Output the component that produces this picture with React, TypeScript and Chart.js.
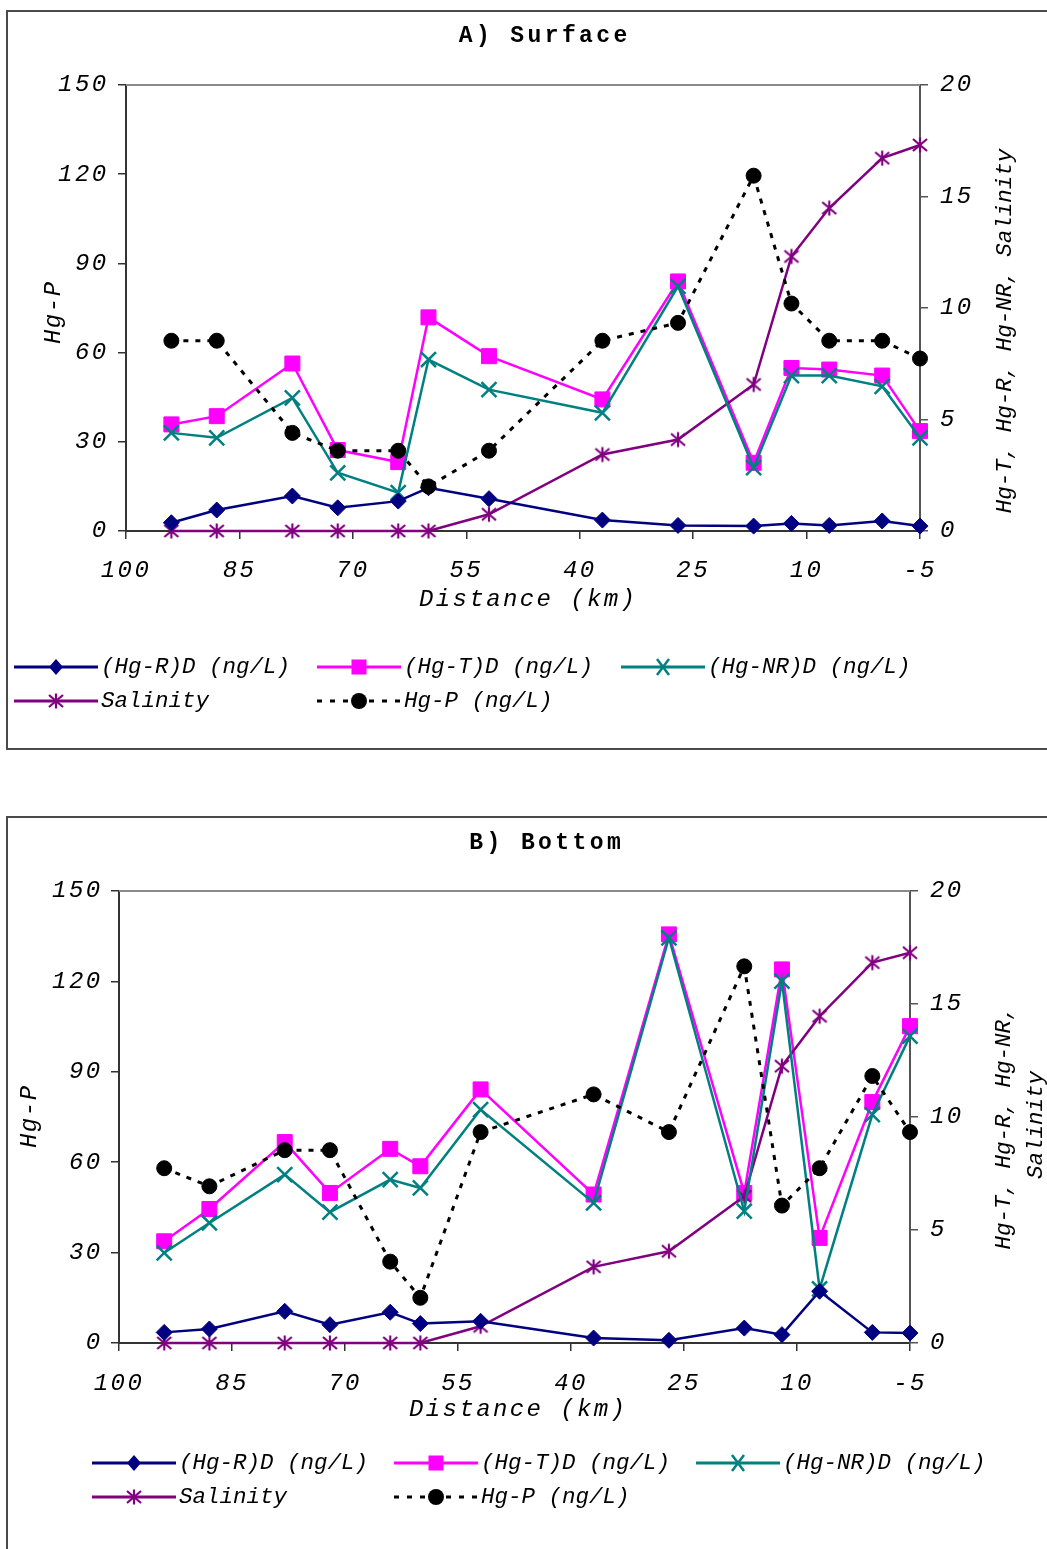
import React, { useEffect, useRef } from 'react';
import { Chart, registerables } from 'chart.js';

Chart.register(...registerables);

// ---------------- data ----------------
const distanceKm = [94, 88, 78, 72, 64, 60, 52, 37, 27, 17, 12, 7, 0, -5];
const xTickValues = [100, 85, 70, 55, 40, 25, 10, -5];
const leftTickValues = [0, 30, 60, 90, 120, 150];
const rightTickValues = [0, 5, 10, 15, 20];

const seriesLabels = ['(Hg-R)D (ng/L)', '(Hg-T)D (ng/L)', '(Hg-NR)D (ng/L)', 'Salinity', 'Hg-P (ng/L)'];

// A) Surface
const surfaceHgR = [0.37, 0.94, 1.57, 1.04, 1.34, 1.94, 1.45, 0.49, 0.25, 0.22, 0.34, 0.25, 0.45, 0.22];
const surfaceHgT = [4.78, 5.15, 7.51, 3.63, 3.09, 9.58, 7.84, 5.9, 11.19, 3.06, 7.31, 7.24, 6.97, 4.48];
const surfaceHgNR = [4.4, 4.18, 5.97, 2.61, 1.72, 7.69, 6.34, 5.3, 10.97, 2.84, 6.97, 6.97, 6.49, 4.18];
const surfaceSalinity = [0, 0, 0, 0, 0, 0, 0.75, 3.43, 4.1, 6.57, 12.31, 14.48, 16.72, 17.31];
const surfaceHgP = [64, 64, 33, 27, 27, 15, 27, 64, 70, 119.5, 76.5, 64, 64, 58];

// B) Bottom
const bottomHgR = [0.47, 0.62, 1.4, 0.81, 1.36, 0.86, 0.96, 0.22, 0.12, 0.66, 0.37, 2.29, 0.47, 0.44];
const bottomHgT = [4.5, 5.93, 8.89, 6.64, 8.59, 7.82, 11.22, 6.57, 18.08, 6.64, 16.53, 4.65, 10.66, 14.02];
const bottomHgNR = [3.99, 5.31, 7.45, 5.79, 7.23, 6.86, 10.33, 6.2, 17.93, 5.83, 16.01, 2.39, 10.11, 13.58];
const bottomSalinity = [0, 0, 0, 0, 0, 0, 0.74, 3.37, 4.06, 6.49, 12.25, 14.46, 16.83, 17.27];
const bottomHgP = [58, 52, 64, 64, 27, 15, 70, 82.5, 70, 125, 45.6, 58, 88.6, 70];

// ---------------- styles ----------------
const SERIES_STYLE = [
  { color: '#000080', marker: 'diamond', axis: 'yR', dash: [] as number[], width: 2.5, order: 1 },
  { color: '#FF00FF', marker: 'square', axis: 'yR', dash: [] as number[], width: 2.5, order: 4 },
  { color: '#008080', marker: 'cross', axis: 'yR', dash: [] as number[], width: 2.5, order: 2 },
  { color: '#800080', marker: 'asterisk', axis: 'yR', dash: [] as number[], width: 2.5, order: 3 },
  { color: '#000000', marker: 'circle', axis: 'yL', dash: [5, 7], width: 3, order: 0 },
];

const MONO = '"Liberation Mono", "Courier New", monospace';
const TICK_SIZE = 24;
const TICK_SPACING = 2.4;
const AXIS_COLOR = '#333333';

let asteriskCache: HTMLCanvasElement | null = null;
function getAsterisk(): HTMLCanvasElement {
  if (asteriskCache) return asteriskCache;
  const c = document.createElement('canvas');
  c.width = 18;
  c.height = 18;
  const g = c.getContext('2d')!;
  g.strokeStyle = '#800080';
  g.lineWidth = 2.2;
  g.beginPath();
  g.moveTo(9, 1.5);
  g.lineTo(9, 16.5);
  g.moveTo(2, 3);
  g.lineTo(16, 15);
  g.moveTo(16, 3);
  g.lineTo(2, 15);
  g.stroke();
  asteriskCache = c;
  return c;
}

function pointStyleFor(marker: string): any {
  switch (marker) {
    case 'diamond':
      return { pointStyle: 'rectRot', pointRadius: 8, pointBorderWidth: 1 };
    case 'square':
      return { pointStyle: 'rect', pointRadius: 10.6, pointBorderWidth: 1 };
    case 'cross':
      return { pointStyle: 'crossRot', pointRadius: 10.6, pointBorderWidth: 2.5 };
    case 'asterisk':
      return { pointStyle: getAsterisk(), pointRadius: 9, pointBorderWidth: 1 };
    default:
      return { pointStyle: 'circle', pointRadius: 7.5, pointBorderWidth: 1 };
  }
}

function drawMarker(ctx: CanvasRenderingContext2D, marker: string, x: number, y: number, color: string) {
  ctx.save();
  ctx.fillStyle = color;
  ctx.strokeStyle = color;
  ctx.setLineDash([]);
  switch (marker) {
    case 'diamond':
      ctx.beginPath();
      ctx.moveTo(x - 7, y);
      ctx.lineTo(x, y - 8);
      ctx.lineTo(x + 7, y);
      ctx.lineTo(x, y + 8);
      ctx.closePath();
      ctx.fill();
      break;
    case 'square':
      ctx.fillRect(x - 7.5, y - 7.5, 15, 15);
      break;
    case 'cross':
      ctx.lineWidth = 2.5;
      ctx.beginPath();
      ctx.moveTo(x - 6, y - 8);
      ctx.lineTo(x + 6, y + 8);
      ctx.moveTo(x + 6, y - 8);
      ctx.lineTo(x - 6, y + 8);
      ctx.stroke();
      break;
    case 'asterisk': {
      const img = getAsterisk();
      ctx.drawImage(img, x - img.width / 2, y - img.height / 2);
      break;
    }
    default:
      ctx.beginPath();
      ctx.arc(x, y, 8, 0, Math.PI * 2);
      ctx.fill();
  }
  ctx.restore();
}

function drawText(
  ctx: any,
  str: string,
  x: number,
  y: number,
  font: string,
  spacing: number,
  rotate = false,
  align: CanvasTextAlign = 'center'
) {
  ctx.save();
  ctx.translate(x, y);
  if (rotate) ctx.rotate(-Math.PI / 2);
  ctx.font = font;
  ctx.letterSpacing = spacing + 'px';
  ctx.textAlign = align;
  ctx.textBaseline = 'middle';
  ctx.fillStyle = '#000';
  ctx.fillText(str, align === 'center' ? spacing / 2 : 0, 0);
  ctx.restore();
}

type PanelCfg = {
  key: string;
  title: string;
  canvasTop: number;
  canvasHeight: number;
  areaLeft: number;
  areaRight: number;
  areaTop: number;
  areaBottom: number;
  series: number[][];
  titlePos: [number, number];
  xTitlePos: [number, number];
  yLeftTitlePos: [number, number];
  yRightTitle: { text: string; x: number; y: number }[];
  legendRowsY: [number, number];
  legendColsX: number[];
  xTickPad: number;
  leftTickPad: number;
  rightTickPad: number;
};

const PANEL_A: PanelCfg = {
  key: 'A',
  title: 'A) Surface',
  canvasTop: 0,
  canvasHeight: 770,
  areaLeft: 126,
  areaRight: 920,
  areaTop: 85,
  areaBottom: 531,
  series: [surfaceHgR, surfaceHgT, surfaceHgNR, surfaceSalinity, surfaceHgP],
  titlePos: [543, 36],
  xTitlePos: [527, 600],
  yLeftTitlePos: [54, 313],
  yRightTitle: [{ text: 'Hg-T, Hg-R, Hg-NR, Salinity', x: 1005, y: 331 }],
  legendRowsY: [667, 701],
  legendColsX: [14, 317, 621],
  xTickPad: 17,
  leftTickPad: 9.5,
  rightTickPad: 12,
};

const PANEL_B: PanelCfg = {
  key: 'B',
  title: 'B) Bottom',
  canvasTop: 780,
  canvasHeight: 769,
  areaLeft: 119,
  areaRight: 910,
  areaTop: 891,
  areaBottom: 1343,
  series: [bottomHgR, bottomHgT, bottomHgNR, bottomSalinity, bottomHgP],
  titlePos: [545, 843],
  xTitlePos: [517, 1410],
  yLeftTitlePos: [30, 1117],
  yRightTitle: [
    { text: 'Hg-T, Hg-R, Hg-NR,', x: 1004, y: 1128 },
    { text: 'Salinity', x: 1036, y: 1125 },
  ],
  legendRowsY: [1463, 1497],
  legendColsX: [92, 394, 696],
  xTickPad: 18,
  leftTickPad: 8.5,
  rightTickPad: 12,
};

function makeDecor(cfg: PanelCfg) {
  const off = cfg.canvasTop;
  return {
    id: 'decor' + cfg.key,
    beforeDraw(chart: any) {
      chart.ctx.letterSpacing = TICK_SPACING + 'px';
    },
    beforeDatasetsDraw(chart: any) {
      const ctx = chart.ctx;
      ctx.letterSpacing = '0px';
      const a = chart.chartArea;
      ctx.save();
      ctx.strokeStyle = '#8a8a8a';
      ctx.lineWidth = 2;
      ctx.beginPath();
      ctx.moveTo(a.left, a.top);
      ctx.lineTo(a.right, a.top);
      ctx.stroke();
      ctx.restore();
    },
    afterDraw(chart: any) {
      const ctx = chart.ctx;
      const tickFont = `italic ${TICK_SIZE}px ${MONO}`;
      drawText(ctx, cfg.title, cfg.titlePos[0], cfg.titlePos[1] - off, `bold 23px ${MONO}`, 3.4);
      drawText(ctx, 'Distance (km)', cfg.xTitlePos[0], cfg.xTitlePos[1] - off, tickFont, TICK_SPACING);
      drawText(ctx, 'Hg-P', cfg.yLeftTitlePos[0], cfg.yLeftTitlePos[1] - off, tickFont, 1.5, true);
      for (const l of cfg.yRightTitle) {
        drawText(ctx, l.text, l.x, l.y - off, `italic 22.5px ${MONO}`, 0, true);
      }
      // legend
      const slots = [
        [0, 0],
        [0, 1],
        [0, 2],
        [1, 0],
        [1, 1],
      ];
      seriesLabels.forEach((label, i) => {
        const st = SERIES_STYLE[i];
        const [row, col] = slots[i];
        const x0 = cfg.legendColsX[col];
        const y = cfg.legendRowsY[row] - off;
        ctx.save();
        ctx.strokeStyle = st.color;
        ctx.lineWidth = 3;
        ctx.setLineDash(st.dash.length ? [5, 8] : []);
        ctx.beginPath();
        ctx.moveTo(x0, y);
        ctx.lineTo(x0 + 84, y);
        ctx.stroke();
        ctx.restore();
        drawMarker(ctx, st.marker, x0 + 42, y, st.color);
        drawText(ctx, label, x0 + 87, y, `italic 22.5px ${MONO}`, 0, false, 'left');
      });
    },
  };
}

function PanelChart({ cfg }: { cfg: PanelCfg }) {
  const ref = useRef<HTMLCanvasElement>(null);
  useEffect(() => {
    const canvas = ref.current;
    if (!canvas) return;
    const tickFont = { family: MONO, size: TICK_SIZE, style: 'italic' as const };
    const datasets = cfg.series.map((vals, i) => {
      const st = SERIES_STYLE[i];
      return {
        label: seriesLabels[i],
        data: distanceKm.map((x, j) => ({ x, y: vals[j] })),
        yAxisID: st.axis,
        borderColor: st.color,
        backgroundColor: st.color,
        pointBackgroundColor: st.color,
        pointBorderColor: st.color,
        borderWidth: st.width,
        borderDash: st.dash,
        tension: 0,
        clip: false as any,
        order: st.order,
        ...pointStyleFor(st.marker),
      };
    });
    const leftWidth = cfg.areaLeft;
    const rightWidth = 1047 - cfg.areaRight;
    const xHeight = cfg.canvasHeight - (cfg.areaBottom - cfg.canvasTop);
    const chart = new Chart(canvas, {
      type: 'line',
      data: { datasets },
      options: {
        animation: false,
        responsive: false,
        devicePixelRatio: 1,
        events: [],
        layout: { padding: { top: cfg.areaTop - cfg.canvasTop, left: 0, right: 0, bottom: 0 } },
        plugins: { legend: { display: false }, tooltip: { enabled: false }, title: { display: false } },
        scales: {
          x: {
            type: 'linear',
            reverse: true,
            min: -5,
            max: 100,
            afterBuildTicks: (s: any) => {
              s.ticks = xTickValues.map((v) => ({ value: v }));
            },
            afterFit: (s: any) => {
              s.height = xHeight;
            },
            grid: { drawOnChartArea: false, drawTicks: true, tickLength: 8, color: AXIS_COLOR, lineWidth: 1.5 },
            border: { display: true, color: AXIS_COLOR, width: 2 },
            ticks: {
              font: tickFont,
              color: '#000',
              padding: cfg.xTickPad,
              maxRotation: 0,
              autoSkip: false,
              callback: (v: any) => String(v),
            },
          },
          yL: {
            type: 'linear',
            position: 'left',
            min: 0,
            max: 150,
            afterBuildTicks: (s: any) => {
              s.ticks = leftTickValues.map((v) => ({ value: v }));
            },
            afterFit: (s: any) => {
              s.width = leftWidth;
            },
            grid: { drawOnChartArea: false, drawTicks: true, tickLength: 8, color: AXIS_COLOR, lineWidth: 1.5 },
            border: { display: true, color: AXIS_COLOR, width: 2 },
            ticks: { font: tickFont, color: '#000', padding: cfg.leftTickPad, callback: (v: any) => String(v) },
          },
          yR: {
            type: 'linear',
            position: 'right',
            min: 0,
            max: 20,
            afterBuildTicks: (s: any) => {
              s.ticks = rightTickValues.map((v) => ({ value: v }));
            },
            afterFit: (s: any) => {
              s.width = rightWidth;
            },
            grid: { drawOnChartArea: false, drawTicks: true, tickLength: 8, color: '#555', lineWidth: 1.5 },
            border: { display: true, color: '#555', width: 2 },
            ticks: { font: tickFont, color: '#000', padding: cfg.rightTickPad, callback: (v: any) => String(v) },
          },
        },
      } as any,
      plugins: [makeDecor(cfg)],
    });
    return () => chart.destroy();
  }, [cfg]);
  return (
    <canvas
      ref={ref}
      width={1047}
      height={cfg.canvasHeight}
      style={{ position: 'absolute', left: 0, top: cfg.canvasTop, width: 1047, height: cfg.canvasHeight }}
    />
  );
}

export default function App() {
  return (
    <div
      style={{
        position: 'absolute',
        left: 0,
        top: 0,
        width: 1047,
        height: 1549,
        overflow: 'hidden',
        background: '#fff',
      }}
    >
      <div
        style={{
          position: 'absolute',
          left: 6,
          top: 10,
          width: 1070,
          height: 740,
          border: '2px solid #4a4a4a',
          boxSizing: 'border-box',
        }}
      />
      <div
        style={{
          position: 'absolute',
          left: 6,
          top: 816,
          width: 1070,
          height: 780,
          border: '2px solid #4a4a4a',
          boxSizing: 'border-box',
        }}
      />
      <PanelChart cfg={PANEL_A} />
      <PanelChart cfg={PANEL_B} />
    </div>
  );
}
